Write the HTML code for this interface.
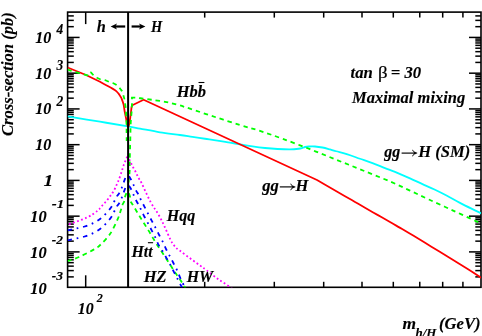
<!DOCTYPE html>
<html><head><meta charset="utf-8"><title>Cross-section</title>
<style>html,body{margin:0;padding:0;background:#fff;}svg{display:block;will-change:transform;}text{font-family:"Liberation Serif",serif;font-weight:bold;font-style:italic;fill:#000;}</style></head><body>
<svg width="482" height="336" viewBox="0 0 482 336">
<rect width="482" height="336" fill="#fff"/>
<defs><clipPath id="c"><rect x="67.6" y="12.1" width="413.4" height="275.2"/></clipPath></defs>
<rect x="67.6" y="12.1" width="413.4" height="275.2" fill="none" stroke="#000" stroke-width="1.6"/>
<g stroke="#000" stroke-width="1.5">
<line x1="67.6" y1="276.89" x2="73.8" y2="276.89"/>
<line x1="481.0" y1="276.89" x2="475.3" y2="276.89"/>
<line x1="67.6" y1="270.60" x2="73.8" y2="270.60"/>
<line x1="481.0" y1="270.60" x2="475.3" y2="270.60"/>
<line x1="67.6" y1="266.13" x2="73.8" y2="266.13"/>
<line x1="481.0" y1="266.13" x2="475.3" y2="266.13"/>
<line x1="67.6" y1="262.67" x2="73.8" y2="262.67"/>
<line x1="481.0" y1="262.67" x2="475.3" y2="262.67"/>
<line x1="67.6" y1="259.83" x2="73.8" y2="259.83"/>
<line x1="481.0" y1="259.83" x2="475.3" y2="259.83"/>
<line x1="67.6" y1="257.44" x2="73.8" y2="257.44"/>
<line x1="481.0" y1="257.44" x2="475.3" y2="257.44"/>
<line x1="67.6" y1="255.37" x2="73.8" y2="255.37"/>
<line x1="481.0" y1="255.37" x2="475.3" y2="255.37"/>
<line x1="67.6" y1="253.54" x2="73.8" y2="253.54"/>
<line x1="481.0" y1="253.54" x2="475.3" y2="253.54"/>
<line x1="67.6" y1="251.90" x2="79.6" y2="251.90"/>
<line x1="481.0" y1="251.90" x2="469.0" y2="251.90"/>
<line x1="67.6" y1="241.14" x2="73.8" y2="241.14"/>
<line x1="481.0" y1="241.14" x2="475.3" y2="241.14"/>
<line x1="67.6" y1="234.85" x2="73.8" y2="234.85"/>
<line x1="481.0" y1="234.85" x2="475.3" y2="234.85"/>
<line x1="67.6" y1="230.38" x2="73.8" y2="230.38"/>
<line x1="481.0" y1="230.38" x2="475.3" y2="230.38"/>
<line x1="67.6" y1="226.92" x2="73.8" y2="226.92"/>
<line x1="481.0" y1="226.92" x2="475.3" y2="226.92"/>
<line x1="67.6" y1="224.09" x2="73.8" y2="224.09"/>
<line x1="481.0" y1="224.09" x2="475.3" y2="224.09"/>
<line x1="67.6" y1="221.70" x2="73.8" y2="221.70"/>
<line x1="481.0" y1="221.70" x2="475.3" y2="221.70"/>
<line x1="67.6" y1="219.62" x2="73.8" y2="219.62"/>
<line x1="481.0" y1="219.62" x2="475.3" y2="219.62"/>
<line x1="67.6" y1="217.80" x2="73.8" y2="217.80"/>
<line x1="481.0" y1="217.80" x2="475.3" y2="217.80"/>
<line x1="67.6" y1="216.16" x2="79.6" y2="216.16"/>
<line x1="481.0" y1="216.16" x2="469.0" y2="216.16"/>
<line x1="67.6" y1="205.40" x2="73.8" y2="205.40"/>
<line x1="481.0" y1="205.40" x2="475.3" y2="205.40"/>
<line x1="67.6" y1="199.11" x2="73.8" y2="199.11"/>
<line x1="481.0" y1="199.11" x2="475.3" y2="199.11"/>
<line x1="67.6" y1="194.64" x2="73.8" y2="194.64"/>
<line x1="481.0" y1="194.64" x2="475.3" y2="194.64"/>
<line x1="67.6" y1="191.18" x2="73.8" y2="191.18"/>
<line x1="481.0" y1="191.18" x2="475.3" y2="191.18"/>
<line x1="67.6" y1="188.34" x2="73.8" y2="188.34"/>
<line x1="481.0" y1="188.34" x2="475.3" y2="188.34"/>
<line x1="67.6" y1="185.95" x2="73.8" y2="185.95"/>
<line x1="481.0" y1="185.95" x2="475.3" y2="185.95"/>
<line x1="67.6" y1="183.88" x2="73.8" y2="183.88"/>
<line x1="481.0" y1="183.88" x2="475.3" y2="183.88"/>
<line x1="67.6" y1="182.05" x2="73.8" y2="182.05"/>
<line x1="481.0" y1="182.05" x2="475.3" y2="182.05"/>
<line x1="67.6" y1="180.41" x2="79.6" y2="180.41"/>
<line x1="481.0" y1="180.41" x2="469.0" y2="180.41"/>
<line x1="67.6" y1="169.65" x2="73.8" y2="169.65"/>
<line x1="481.0" y1="169.65" x2="475.3" y2="169.65"/>
<line x1="67.6" y1="163.36" x2="73.8" y2="163.36"/>
<line x1="481.0" y1="163.36" x2="475.3" y2="163.36"/>
<line x1="67.6" y1="158.89" x2="73.8" y2="158.89"/>
<line x1="481.0" y1="158.89" x2="475.3" y2="158.89"/>
<line x1="67.6" y1="155.43" x2="73.8" y2="155.43"/>
<line x1="481.0" y1="155.43" x2="475.3" y2="155.43"/>
<line x1="67.6" y1="152.60" x2="73.8" y2="152.60"/>
<line x1="481.0" y1="152.60" x2="475.3" y2="152.60"/>
<line x1="67.6" y1="150.21" x2="73.8" y2="150.21"/>
<line x1="481.0" y1="150.21" x2="475.3" y2="150.21"/>
<line x1="67.6" y1="148.13" x2="73.8" y2="148.13"/>
<line x1="481.0" y1="148.13" x2="475.3" y2="148.13"/>
<line x1="67.6" y1="146.31" x2="73.8" y2="146.31"/>
<line x1="481.0" y1="146.31" x2="475.3" y2="146.31"/>
<line x1="67.6" y1="144.67" x2="79.6" y2="144.67"/>
<line x1="481.0" y1="144.67" x2="469.0" y2="144.67"/>
<line x1="67.6" y1="133.91" x2="73.8" y2="133.91"/>
<line x1="481.0" y1="133.91" x2="475.3" y2="133.91"/>
<line x1="67.6" y1="127.62" x2="73.8" y2="127.62"/>
<line x1="481.0" y1="127.62" x2="475.3" y2="127.62"/>
<line x1="67.6" y1="123.15" x2="73.8" y2="123.15"/>
<line x1="481.0" y1="123.15" x2="475.3" y2="123.15"/>
<line x1="67.6" y1="119.69" x2="73.8" y2="119.69"/>
<line x1="481.0" y1="119.69" x2="475.3" y2="119.69"/>
<line x1="67.6" y1="116.85" x2="73.8" y2="116.85"/>
<line x1="481.0" y1="116.85" x2="475.3" y2="116.85"/>
<line x1="67.6" y1="114.46" x2="73.8" y2="114.46"/>
<line x1="481.0" y1="114.46" x2="475.3" y2="114.46"/>
<line x1="67.6" y1="112.39" x2="73.8" y2="112.39"/>
<line x1="481.0" y1="112.39" x2="475.3" y2="112.39"/>
<line x1="67.6" y1="110.56" x2="73.8" y2="110.56"/>
<line x1="481.0" y1="110.56" x2="475.3" y2="110.56"/>
<line x1="67.6" y1="108.92" x2="79.6" y2="108.92"/>
<line x1="481.0" y1="108.92" x2="469.0" y2="108.92"/>
<line x1="67.6" y1="98.16" x2="73.8" y2="98.16"/>
<line x1="481.0" y1="98.16" x2="475.3" y2="98.16"/>
<line x1="67.6" y1="91.87" x2="73.8" y2="91.87"/>
<line x1="481.0" y1="91.87" x2="475.3" y2="91.87"/>
<line x1="67.6" y1="87.40" x2="73.8" y2="87.40"/>
<line x1="481.0" y1="87.40" x2="475.3" y2="87.40"/>
<line x1="67.6" y1="83.94" x2="73.8" y2="83.94"/>
<line x1="481.0" y1="83.94" x2="475.3" y2="83.94"/>
<line x1="67.6" y1="81.11" x2="73.8" y2="81.11"/>
<line x1="481.0" y1="81.11" x2="475.3" y2="81.11"/>
<line x1="67.6" y1="78.72" x2="73.8" y2="78.72"/>
<line x1="481.0" y1="78.72" x2="475.3" y2="78.72"/>
<line x1="67.6" y1="76.64" x2="73.8" y2="76.64"/>
<line x1="481.0" y1="76.64" x2="475.3" y2="76.64"/>
<line x1="67.6" y1="74.82" x2="73.8" y2="74.82"/>
<line x1="481.0" y1="74.82" x2="475.3" y2="74.82"/>
<line x1="67.6" y1="73.18" x2="79.6" y2="73.18"/>
<line x1="481.0" y1="73.18" x2="469.0" y2="73.18"/>
<line x1="67.6" y1="62.42" x2="73.8" y2="62.42"/>
<line x1="481.0" y1="62.42" x2="475.3" y2="62.42"/>
<line x1="67.6" y1="56.13" x2="73.8" y2="56.13"/>
<line x1="481.0" y1="56.13" x2="475.3" y2="56.13"/>
<line x1="67.6" y1="51.66" x2="73.8" y2="51.66"/>
<line x1="481.0" y1="51.66" x2="475.3" y2="51.66"/>
<line x1="67.6" y1="48.20" x2="73.8" y2="48.20"/>
<line x1="481.0" y1="48.20" x2="475.3" y2="48.20"/>
<line x1="67.6" y1="45.36" x2="73.8" y2="45.36"/>
<line x1="481.0" y1="45.36" x2="475.3" y2="45.36"/>
<line x1="67.6" y1="42.97" x2="73.8" y2="42.97"/>
<line x1="481.0" y1="42.97" x2="475.3" y2="42.97"/>
<line x1="67.6" y1="40.90" x2="73.8" y2="40.90"/>
<line x1="481.0" y1="40.90" x2="475.3" y2="40.90"/>
<line x1="67.6" y1="39.07" x2="73.8" y2="39.07"/>
<line x1="481.0" y1="39.07" x2="475.3" y2="39.07"/>
<line x1="67.6" y1="37.43" x2="79.6" y2="37.43"/>
<line x1="481.0" y1="37.43" x2="469.0" y2="37.43"/>
<line x1="67.6" y1="26.67" x2="73.8" y2="26.67"/>
<line x1="481.0" y1="26.67" x2="475.3" y2="26.67"/>
<line x1="67.6" y1="20.38" x2="73.8" y2="20.38"/>
<line x1="481.0" y1="20.38" x2="475.3" y2="20.38"/>
<line x1="67.6" y1="15.91" x2="73.8" y2="15.91"/>
<line x1="481.0" y1="15.91" x2="475.3" y2="15.91"/>
<line x1="85.69" y1="287.3" x2="85.69" y2="275.3"/>
<line x1="85.69" y1="12.1" x2="85.69" y2="24.1"/>
<line x1="204.69" y1="287.3" x2="204.69" y2="281.8"/>
<line x1="204.69" y1="12.1" x2="204.69" y2="17.6"/>
<line x1="274.30" y1="287.3" x2="274.30" y2="281.8"/>
<line x1="274.30" y1="12.1" x2="274.30" y2="17.6"/>
<line x1="323.69" y1="287.3" x2="323.69" y2="281.8"/>
<line x1="323.69" y1="12.1" x2="323.69" y2="17.6"/>
<line x1="362.00" y1="287.3" x2="362.00" y2="281.8"/>
<line x1="362.00" y1="12.1" x2="362.00" y2="17.6"/>
<line x1="393.30" y1="287.3" x2="393.30" y2="281.8"/>
<line x1="393.30" y1="12.1" x2="393.30" y2="17.6"/>
<line x1="419.77" y1="287.3" x2="419.77" y2="281.8"/>
<line x1="419.77" y1="12.1" x2="419.77" y2="17.6"/>
<line x1="442.69" y1="287.3" x2="442.69" y2="281.8"/>
<line x1="442.69" y1="12.1" x2="442.69" y2="17.6"/>
<line x1="462.91" y1="287.3" x2="462.91" y2="281.8"/>
<line x1="462.91" y1="12.1" x2="462.91" y2="17.6"/>
</g>
<g clip-path="url(#c)" fill="none" stroke-width="1.8" stroke-linejoin="round">
<path d="M67.60,116.40 C73.00,117.28 89.93,120.03 100.00,121.70 C110.07,123.37 121.33,125.25 128.00,126.40 C134.67,127.55 134.67,127.62 140.00,128.60 C145.33,129.58 153.33,131.23 160.00,132.30 C166.67,133.37 174.58,134.23 180.00,135.00 C185.42,135.77 188.33,136.28 192.50,136.90 C196.67,137.53 200.83,138.13 205.00,138.75 C209.17,139.37 213.33,139.94 217.50,140.60 C221.67,141.26 226.25,142.08 230.00,142.70 C233.75,143.32 236.25,143.68 240.00,144.30 C243.75,144.92 248.33,145.78 252.50,146.40 C256.67,147.02 260.83,147.57 265.00,148.00 C269.17,148.43 273.33,148.77 277.50,149.00 C281.67,149.23 286.46,149.44 290.00,149.40 C293.54,149.36 296.67,149.00 298.75,148.75 C300.83,148.50 301.46,148.19 302.50,147.90 C303.54,147.61 303.96,147.23 305.00,147.00 C306.04,146.77 307.08,146.58 308.75,146.50 C310.42,146.42 312.71,146.33 315.00,146.50 C317.29,146.67 320.00,147.02 322.50,147.50 C325.00,147.98 327.71,148.78 330.00,149.40 C332.29,150.03 333.33,150.42 336.25,151.25 C339.17,152.08 343.54,153.15 347.50,154.40 C351.46,155.65 355.83,157.30 360.00,158.75 C364.17,160.20 368.33,161.54 372.50,163.10 C376.67,164.66 381.25,166.63 385.00,168.10 C388.75,169.57 390.83,170.18 395.00,171.90 C399.17,173.62 405.50,176.40 410.00,178.40 C414.50,180.40 417.92,182.05 422.00,183.90 C426.08,185.75 430.33,187.53 434.50,189.50 C438.67,191.47 442.83,193.57 447.00,195.75 C451.17,197.93 455.33,200.41 459.50,202.60 C463.67,204.79 468.25,207.05 472.00,208.90 C475.75,210.75 480.33,212.90 482.00,213.70" stroke="#00ffff"/>
<path d="M67.60,67.50 L86.00,75.00 L100.00,81.75 C101.04,82.33 104.17,84.06 106.25,85.20 C108.33,86.34 110.83,87.62 112.50,88.60 C114.17,89.58 115.21,90.22 116.25,91.10 C117.29,91.98 118.03,92.96 118.75,93.90 C119.47,94.84 120.11,95.93 120.60,96.75 C121.09,97.57 121.20,97.51 121.70,98.80 C122.20,100.09 123.12,102.47 123.60,104.50 C124.08,106.53 124.20,108.75 124.60,111.00 C125.00,113.25 125.53,115.60 126.00,118.00 C126.47,120.40 127.03,123.90 127.40,125.40 C127.77,126.90 128.07,126.73 128.20,127.00 C128.38,126.50 128.92,125.50 129.25,124.00 C129.58,122.50 129.89,120.17 130.20,118.00 C130.51,115.83 130.87,112.90 131.10,111.00 C131.33,109.10 131.52,107.33 131.60,106.60 L132.30,105.20 L143.60,99.80 L317.00,180.00 C319.58,181.49 327.83,186.25 332.50,188.95 C337.17,191.65 341.25,194.03 345.00,196.20 C348.75,198.37 351.67,200.03 355.00,201.95 C358.33,203.87 361.25,205.54 365.00,207.70 C368.75,209.86 373.33,212.52 377.50,214.90 C381.67,217.28 386.46,219.97 390.00,222.00 C393.54,224.03 394.88,224.83 398.75,227.10 C402.62,229.37 407.76,232.33 413.20,235.60 C418.64,238.87 425.35,243.00 431.40,246.70 C437.45,250.40 443.45,254.07 449.50,257.80 C455.55,261.53 462.28,265.70 467.70,269.10 C473.12,272.50 479.62,276.68 482.00,278.20" stroke="#ff0000"/>
<path d="M67.60,69.40 C68.22,69.65 69.33,70.28 71.30,70.90 C73.27,71.52 76.68,72.37 79.40,73.10 C82.12,73.83 86.10,74.88 87.60,75.30 C89.10,75.72 88.27,75.55 88.40,75.60 L90.90,72.40 L94.30,76.20 C94.73,76.47 95.78,77.23 96.90,77.80 C98.02,78.37 99.65,79.20 101.00,79.60 C102.35,80.00 103.60,79.80 105.00,80.20 C106.40,80.60 108.10,81.53 109.40,82.00 C110.70,82.47 111.55,82.47 112.80,83.00 C114.05,83.53 115.87,84.47 116.90,85.20 C117.93,85.93 118.38,86.73 119.00,87.40 C119.62,88.07 120.03,88.47 120.60,89.20 C121.17,89.93 121.95,90.83 122.40,91.80 C122.85,92.77 122.95,93.72 123.30,95.00 C123.65,96.28 124.17,97.83 124.50,99.50 C124.83,101.17 125.07,103.25 125.30,105.00 C125.53,106.75 125.75,108.17 125.90,110.00 C126.05,111.83 126.10,113.67 126.20,116.00 C126.30,118.33 126.43,121.33 126.50,124.00 C126.57,126.67 126.57,129.17 126.60,132.00 C126.63,134.83 126.68,139.50 126.70,141.00" stroke="#00ff00" stroke-dasharray="4.4 4.07"/>
<path d="M132.00,97.60 C132.00,98.50 132.05,100.77 132.00,103.00 C131.95,105.23 131.88,108.17 131.70,111.00 C131.52,113.83 131.10,116.83 130.90,120.00 C130.70,123.17 130.60,126.67 130.50,130.00 C130.40,133.33 130.38,136.67 130.30,140.00 C130.22,143.33 130.08,146.67 130.00,150.00 C129.92,153.33 129.85,156.67 129.80,160.00 C129.75,163.33 129.78,167.50 129.70,170.00 C129.62,172.50 129.47,173.17 129.30,175.00 C129.13,176.83 128.85,178.17 128.70,181.00 C128.55,183.83 128.45,190.17 128.40,192.00" stroke="#00ff00" stroke-dasharray="4.4 3.94" stroke-dashoffset="-5.64"/>
<path d="M131.10,97.60 C132.08,97.63 135.02,97.63 137.00,97.80 C138.98,97.97 140.50,98.27 143.00,98.60 C145.50,98.93 148.33,99.27 152.00,99.80 C155.67,100.33 160.83,101.00 165.00,101.80 C169.17,102.60 172.83,103.45 177.00,104.60 C181.17,105.75 183.67,106.63 190.00,108.70 C196.33,110.77 206.67,114.28 215.00,117.00 C223.33,119.72 232.50,122.68 240.00,125.00 C247.50,127.32 252.92,128.61 260.00,130.90 C267.08,133.19 274.17,135.70 282.50,138.75 C290.83,141.80 300.92,145.66 310.00,149.20 C319.08,152.74 328.17,156.45 337.00,160.00 C345.83,163.55 354.07,166.88 363.00,170.50 C371.93,174.12 382.77,178.35 390.60,181.70 C398.43,185.05 403.62,187.63 410.00,190.60 C416.38,193.57 421.90,196.25 428.90,199.50 C435.90,202.75 444.30,206.56 452.00,210.10 C459.70,213.64 470.10,218.43 475.10,220.75 C480.10,223.07 480.85,223.46 482.00,224.00" stroke="#00ff00" stroke-dasharray="4.4 3.92" stroke-dashoffset="0.26"/>
<path d="M126.40,193.10 C126.15,193.78 125.26,195.84 124.90,197.20 C124.54,198.56 124.67,199.95 124.25,201.25 C123.83,202.55 122.96,203.54 122.40,205.00 C121.84,206.46 121.67,207.70 120.90,210.00 C120.13,212.30 119.58,214.83 117.80,218.80 C116.02,222.77 113.13,229.43 110.20,233.80 C107.27,238.17 102.90,242.40 100.20,245.00 C97.50,247.60 97.53,247.40 94.00,249.40 C90.47,251.40 83.40,255.07 79.00,257.00 C74.60,258.93 69.50,260.33 67.60,261.00" stroke="#00ff00" stroke-dasharray="4.4 3.92"/>
<path d="M128.90,193.40 C129.07,193.88 129.63,195.00 129.90,196.25 C130.17,197.50 130.03,199.49 130.50,200.90 C130.97,202.31 131.43,202.57 132.70,204.70 C133.97,206.83 136.31,210.73 138.10,213.70 C139.89,216.67 141.67,219.63 143.45,222.50 C145.22,225.37 147.13,228.25 148.75,230.90 C150.37,233.55 151.74,236.05 153.15,238.40 C154.56,240.75 155.74,242.75 157.20,245.00 C158.66,247.25 159.60,248.38 161.90,251.90 C164.20,255.42 168.71,262.53 171.00,266.10 C173.29,269.67 174.15,271.07 175.65,273.30 C177.15,275.53 178.51,277.26 180.00,279.50 C181.49,281.74 183.60,285.17 184.60,286.75 C185.60,288.33 185.77,288.62 186.00,289.00" stroke="#00ff00" stroke-dasharray="4.4 3.92"/>
<path d="M127.20,156.60 C126.92,157.27 126.05,159.28 125.50,160.60 C124.95,161.92 124.37,163.20 123.90,164.50 C123.43,165.80 123.10,167.15 122.70,168.40 C122.30,169.65 122.12,170.17 121.50,172.00 C120.88,173.83 119.73,177.44 119.00,179.40 C118.27,181.36 117.72,182.32 117.10,183.75 C116.47,185.18 115.97,186.54 115.25,188.00 C114.53,189.46 113.58,191.17 112.75,192.50 C111.92,193.83 111.08,194.85 110.25,196.00 C109.42,197.15 108.58,198.36 107.75,199.40 C106.92,200.44 106.08,201.32 105.25,202.25 C104.42,203.18 103.58,204.06 102.75,205.00 C101.92,205.94 101.08,206.97 100.25,207.90 C99.42,208.83 99.96,209.00 97.75,210.60 C95.54,212.20 92.03,215.13 87.00,217.50 C81.97,219.87 70.83,223.58 67.60,224.80" stroke="#ff00ff" stroke-dasharray="1.8 2.4"/>
<path d="M129.25,159.25 C129.59,160.00 130.64,162.38 131.30,163.75 C131.96,165.12 132.55,166.29 133.20,167.50 C133.85,168.71 134.55,169.75 135.20,171.00 C135.85,172.25 136.47,173.71 137.10,175.00 C137.73,176.29 138.31,177.52 139.00,178.75 C139.69,179.98 139.32,178.53 141.25,182.40 C143.18,186.28 147.68,196.57 150.60,202.00 C153.52,207.43 156.35,210.75 158.75,215.00 C161.15,219.25 163.03,223.33 165.00,227.50 C166.97,231.67 169.14,237.08 170.60,240.00 C172.06,242.92 172.81,243.67 173.75,245.00 C174.69,246.33 175.21,247.03 176.25,248.00 C177.29,248.97 178.33,249.55 180.00,250.80 C181.67,252.05 184.07,253.88 186.25,255.50 C188.43,257.12 190.81,258.83 193.10,260.50 C195.39,262.17 197.81,263.92 200.00,265.50 C202.19,267.08 203.20,267.72 206.25,270.00 C209.30,272.28 214.24,276.32 218.30,279.20 C222.36,282.08 228.15,285.67 230.60,287.30 C233.05,288.93 232.60,288.72 233.00,289.00" stroke="#ff00ff" stroke-dasharray="1.8 2.4"/>
<path d="M125.30,178.00 C125.02,178.77 124.19,180.97 123.60,182.60 C123.01,184.22 122.47,186.00 121.75,187.75 C121.03,189.50 120.08,191.64 119.25,193.10 C118.42,194.56 117.62,195.03 116.75,196.50 C115.88,197.97 115.12,199.85 114.00,201.90 C112.88,203.95 112.50,205.82 110.00,208.80 C107.50,211.78 103.23,216.85 99.00,219.80 C94.77,222.75 89.83,224.77 84.60,226.50 C79.37,228.23 70.43,229.58 67.60,230.20" stroke="#0000ff" stroke-dasharray="4.6 4.75 1.7 4.75"/>
<path d="M129.00,176.10 C129.40,176.82 130.60,178.83 131.40,180.40 C132.20,181.97 133.02,183.80 133.80,185.50 C134.58,187.20 135.30,189.05 136.10,190.60 C136.90,192.15 137.80,193.28 138.60,194.80 C139.40,196.32 139.62,197.12 140.90,199.70 C142.18,202.28 144.48,206.77 146.30,210.30 C148.12,213.83 150.25,217.98 151.80,220.90 C153.35,223.82 154.35,225.41 155.60,227.80 C156.85,230.19 158.07,232.83 159.30,235.25 C160.53,237.67 161.84,239.93 163.00,242.30 C164.16,244.68 165.08,247.13 166.25,249.50 C167.42,251.87 168.79,254.21 170.00,256.50 C171.21,258.79 172.29,260.88 173.50,263.25 C174.71,265.62 176.06,268.09 177.25,270.70 C178.44,273.31 179.38,276.13 180.65,278.90 C181.92,281.67 184.01,285.62 184.85,287.30 C185.69,288.98 185.56,288.72 185.70,289.00" stroke="#0000ff" stroke-dasharray="4.6 4.75 1.7 4.75"/>
<path d="M125.30,188.00 C125.02,188.77 124.19,190.97 123.60,192.60 C123.01,194.22 122.47,196.00 121.75,197.75 C121.03,199.50 120.08,201.64 119.25,203.10 C118.42,204.56 117.62,205.03 116.75,206.50 C115.88,207.97 115.12,209.85 114.00,211.90 C112.88,213.95 112.50,215.82 110.00,218.80 C107.50,221.78 103.23,226.85 99.00,229.80 C94.77,232.75 89.83,234.77 84.60,236.50 C79.37,238.23 70.43,239.58 67.60,240.20" stroke="#0000ff" stroke-dasharray="4.6 4.75 1.7 4.75"/>
<path d="M129.00,185.80 C129.40,186.46 130.60,188.17 131.40,189.75 C132.20,191.33 133.02,193.54 133.80,195.30 C134.58,197.06 135.30,198.70 136.10,200.30 C136.90,201.90 137.80,203.38 138.60,204.90 C139.40,206.42 139.95,207.47 140.90,209.40 C141.85,211.33 143.10,214.15 144.30,216.50 C145.50,218.85 146.85,221.15 148.10,223.50 C149.35,225.85 150.55,228.18 151.80,230.60 C153.05,233.02 154.44,235.56 155.60,238.00 C156.76,240.44 157.52,242.92 158.75,245.25 C159.98,247.58 161.66,249.78 163.00,252.00 C164.34,254.22 165.63,256.55 166.80,258.60 C167.97,260.65 168.80,262.05 170.00,264.30 C171.20,266.55 172.73,269.65 174.00,272.10 C175.27,274.55 176.39,276.67 177.60,279.00 C178.81,281.33 180.38,284.43 181.25,286.10 C182.12,287.77 182.54,288.52 182.80,289.00" stroke="#0000ff" stroke-dasharray="4.6 4.75 1.7 4.75"/>
</g>
<line x1="128.1" y1="12.1" x2="128.1" y2="287.3" stroke="#000" stroke-width="2"/>
<g stroke="#000" stroke-width="0.12">
<text id="ten4" x="35.25" y="42.83" font-size="16.5" textLength="16.10" lengthAdjust="spacingAndGlyphs">10</text>
<text id="exp4" x="56.50" y="34.43" font-size="13.6" textLength="6.71" lengthAdjust="spacingAndGlyphs">4</text>
<text id="ten3" x="35.25" y="78.58" font-size="16.5" textLength="16.10" lengthAdjust="spacingAndGlyphs">10</text>
<text id="exp3" x="56.50" y="70.18" font-size="13.6" textLength="6.71" lengthAdjust="spacingAndGlyphs">3</text>
<text id="ten2" x="35.25" y="114.32" font-size="16.5" textLength="16.10" lengthAdjust="spacingAndGlyphs">10</text>
<text id="exp2" x="56.50" y="105.92" font-size="13.6" textLength="6.71" lengthAdjust="spacingAndGlyphs">2</text>
<text id="ten1" x="35.25" y="150.07" font-size="16.5" textLength="16.10" lengthAdjust="spacingAndGlyphs">10</text>
<text id="one" x="43.50" y="185.71" font-size="16.5" textLength="9.70" lengthAdjust="spacingAndGlyphs">1</text>
<text id="ten-1" x="30.25" y="222.26" font-size="16.5" textLength="16.35" lengthAdjust="spacingAndGlyphs">10</text>
<text id="exp-1" x="51.75" y="208.16" font-size="12.8" textLength="12.47" lengthAdjust="spacingAndGlyphs">-1</text>
<text id="ten-2" x="30.25" y="258.00" font-size="16.5" textLength="16.35" lengthAdjust="spacingAndGlyphs">10</text>
<text id="exp-2" x="51.75" y="243.90" font-size="12.8" textLength="11.22" lengthAdjust="spacingAndGlyphs">-2</text>
<text id="ten-3" x="30.25" y="293.75" font-size="16.5" textLength="16.35" lengthAdjust="spacingAndGlyphs">10</text>
<text id="exp-3" x="51.75" y="279.65" font-size="12.8" textLength="11.22" lengthAdjust="spacingAndGlyphs">-3</text>
<text id="tenx" x="77.75" y="313.60" font-size="16.5" textLength="15.80" lengthAdjust="spacingAndGlyphs">10</text>
<text id="expx" x="96.75" y="302.30" font-size="13.2" textLength="6.06" lengthAdjust="spacingAndGlyphs">2</text>
<text id="m" x="402.50" y="329.40" font-size="16.5" textLength="13.59" lengthAdjust="spacingAndGlyphs">m</text>
<text id="hH" x="415.50" y="337.00" font-size="12.8" textLength="20.99" lengthAdjust="spacingAndGlyphs">h/H</text>
<text id="GeV" x="439.00" y="329.40" font-size="16.5" textLength="41.63" lengthAdjust="spacingAndGlyphs">(GeV)</text>
<text id="h" x="96.75" y="31.60" font-size="16.5" textLength="9.09" lengthAdjust="spacingAndGlyphs">h</text>
<text id="H" x="151.00" y="32.00" font-size="16.5" textLength="11.24" lengthAdjust="spacingAndGlyphs">H</text>
<text id="Hbb" x="176.75" y="97.25" font-size="16.5" textLength="29.24" lengthAdjust="spacingAndGlyphs">Hbb</text>
<text id="tan" x="350.50" y="77.60" font-size="16.5" textLength="22.27" lengthAdjust="spacingAndGlyphs">tan</text>
<text id="eq30" x="390.75" y="77.60" font-size="16.5" textLength="30.48" lengthAdjust="spacingAndGlyphs">= 30</text>
<text id="maxmix" x="352.00" y="103.40" font-size="16.5" textLength="113.23" lengthAdjust="spacingAndGlyphs">Maximal mixing</text>
<text id="gg1" x="384.25" y="157.25" font-size="16.5" textLength="16.00" lengthAdjust="spacingAndGlyphs">gg</text>
<text id="HSM" x="418.25" y="157.25" font-size="16.5" textLength="51.95" lengthAdjust="spacingAndGlyphs">H (SM)</text>
<text id="gg2" x="262.25" y="191.20" font-size="16.5" textLength="16.65" lengthAdjust="spacingAndGlyphs">gg</text>
<text id="H2" x="295.50" y="191.20" font-size="16.5" textLength="12.84" lengthAdjust="spacingAndGlyphs">H</text>
<text id="Hqq" x="166.75" y="221.40" font-size="16.5" textLength="28.49" lengthAdjust="spacingAndGlyphs">Hqq</text>
<text id="Htt" x="131.50" y="257.30" font-size="16.5" textLength="21.17" lengthAdjust="spacingAndGlyphs">Htt</text>
<text id="HZ" x="143.75" y="282.20" font-size="16.5" textLength="22.82" lengthAdjust="spacingAndGlyphs">HZ</text>
<text id="HW" x="186.75" y="282.20" font-size="16.5" textLength="26.52" lengthAdjust="spacingAndGlyphs">HW</text>
<text id="beta" x="377.9" y="78.2" font-size="16.2" textLength="9.6" lengthAdjust="spacingAndGlyphs" stroke-width="0.2" style="font-style:normal;font-weight:normal">β</text>
<text id="ylab" font-size="17.4" textLength="124" lengthAdjust="spacingAndGlyphs" transform="translate(12.9,136.1) rotate(-90)">Cross-section (pb)</text>
</g>
<path d="M401.60,153.10 L416.20,153.10" stroke="#000" stroke-width="1.15" fill="none"/>
<path d="M417.20,153.10 C415.20,152.50 413.40,151.30 412.30,150.10 L412.90,150.10 C413.20,151.50 413.80,152.50 414.60,153.10 C413.80,153.70 413.20,154.70 412.90,156.10 L412.30,156.10 C413.40,154.90 415.20,153.70 417.20,153.10 Z" fill="#000" stroke="#000" stroke-width="0.4"/>
<path d="M279.80,186.90 L294.40,186.90" stroke="#000" stroke-width="1.15" fill="none"/>
<path d="M295.40,186.90 C293.40,186.30 291.60,185.10 290.50,183.90 L291.10,183.90 C291.40,185.30 292.00,186.30 292.80,186.90 C292.00,187.50 291.40,188.50 291.10,189.90 L290.50,189.90 C291.60,188.70 293.40,187.50 295.40,186.90 Z" fill="#000" stroke="#000" stroke-width="0.4"/>
<g stroke="#000" stroke-width="1.5" fill="#000">
<line x1="114" y1="26.5" x2="125.2" y2="26.5" stroke-width="2.2"/><path d="M110.6,26.5 L117,23.4 L115.4,26.5 L117,29.6 Z" stroke="none"/>
<line x1="131.6" y1="26.5" x2="142" y2="26.5" stroke-width="2.2"/><path d="M145.4,26.5 L139,23.4 L140.6,26.5 L139,29.6 Z" stroke="none"/>
<line x1="198.5" y1="82.5" x2="204.4" y2="82.5" stroke-width="1.1"/>
<line x1="147.9" y1="242.7" x2="153.1" y2="242.7" stroke-width="1.1"/>
</g>
</svg></body></html>
